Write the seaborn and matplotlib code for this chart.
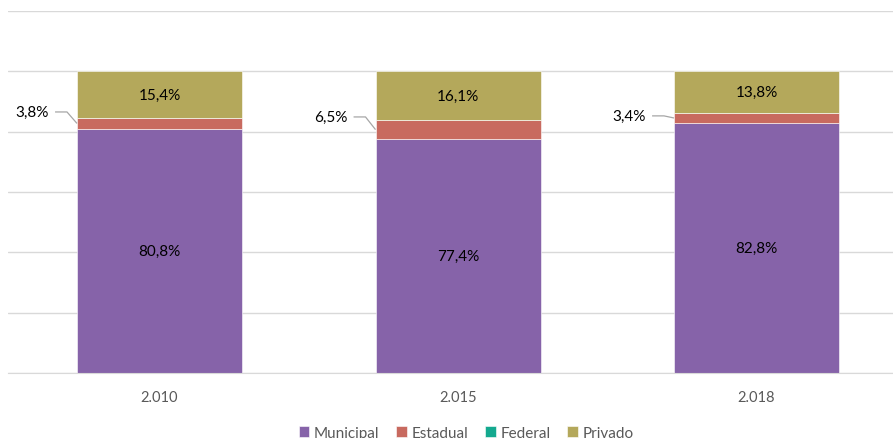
import numpy as np
import matplotlib
matplotlib.use("Agg")
import matplotlib.pyplot as plt
import pandas as pd
import seaborn as sns

years = ["2.010", "2.015", "2.018"]
municipal = [80.8, 77.4, 82.8]
estadual = [3.8, 6.5, 3.4]
federal = [0.0, 0.0, 0.0]
privado = [15.4, 16.1, 13.8]

series_names = ["Municipal", "Estadual", "Federal", "Privado"]
colors = {"Municipal": "#8663A9", "Estadual": "#C86A5F",
          "Federal": "#14A98F", "Privado": "#B4A85B"}

# vertical shift of the outside labels (Estadual) relative to segment middle
label_shift = [3.8, 4.2, 0.7]

df = pd.DataFrame({"Ano": years, "Municipal": municipal, "Estadual": estadual,
                   "Federal": federal, "Privado": privado})

sns.set_style("white")
plt.rcParams["font.family"] = ["Lato", "DejaVu Sans"]

fig = plt.figure(figsize=(8.93, 4.39), dpi=100)
ax = fig.add_axes([0.009, 0.148, 0.991, 0.825])

bar_w = 0.553
bottom = np.zeros(len(years))
for name in series_names:
    sns.barplot(data=df, x="Ano", y=name, bottom=bottom, color=colors[name],
                width=bar_w, ax=ax, edgecolor="white", linewidth=0.4,
                label=name, saturation=1)
    bottom = bottom + df[name].values

def fmt(v):
    return f"{v:.1f}%".replace(".", ",")

for i in range(len(years)):
    ax.text(i, municipal[i] / 2, fmt(municipal[i]),
            ha="center", va="center", fontsize=11, color="#000000")
    top_start = municipal[i] + estadual[i] + federal[i]
    ax.text(i, top_start + privado[i] / 2, fmt(privado[i]),
            ha="center", va="center", fontsize=11, color="#000000")
    # Estadual label outside with leader line
    mid = municipal[i] + estadual[i] / 2
    ty = mid + label_shift[i]
    ax.text(i - 0.37, ty, fmt(estadual[i]), ha="right", va="center",
            fontsize=11, color="#000000")
    ax.plot([i - 0.35, i - 0.31, i - bar_w / 2], [ty, ty, mid],
            color="#A6A6A6", lw=0.9, solid_capstyle="butt")

ax.set_xlim(-0.5075, 2.457)
ax.set_ylim(0, 120)
ax.set_yticks([0, 20, 40, 60, 80, 100, 120])
ax.set_yticklabels([])
ax.tick_params(axis="y", length=0)
ax.tick_params(axis="x", length=0, labelsize=10.5, labelcolor="#595959", pad=12)
ax.yaxis.grid(True, color="#D9D9D9", linewidth=1)
ax.set_axisbelow(True)
for s in ["left", "right", "top"]:
    ax.spines[s].set_visible(False)
ax.spines["bottom"].set_color("#D9D9D9")
ax.set_xlabel("")
ax.set_ylabel("")

handles, labels = ax.get_legend_handles_labels()
if ax.get_legend():
    ax.get_legend().remove()
leg = fig.legend(handles, labels, loc="lower center", bbox_to_anchor=(0.522, -0.035),
                 ncol=4, frameon=False, fontsize=11, handlelength=0.7,
                 handleheight=0.7, handletextpad=0.3, columnspacing=1.1)
for t in leg.get_texts():
    t.set_color("#595959")

fig.savefig("out.png", dpi=100)
